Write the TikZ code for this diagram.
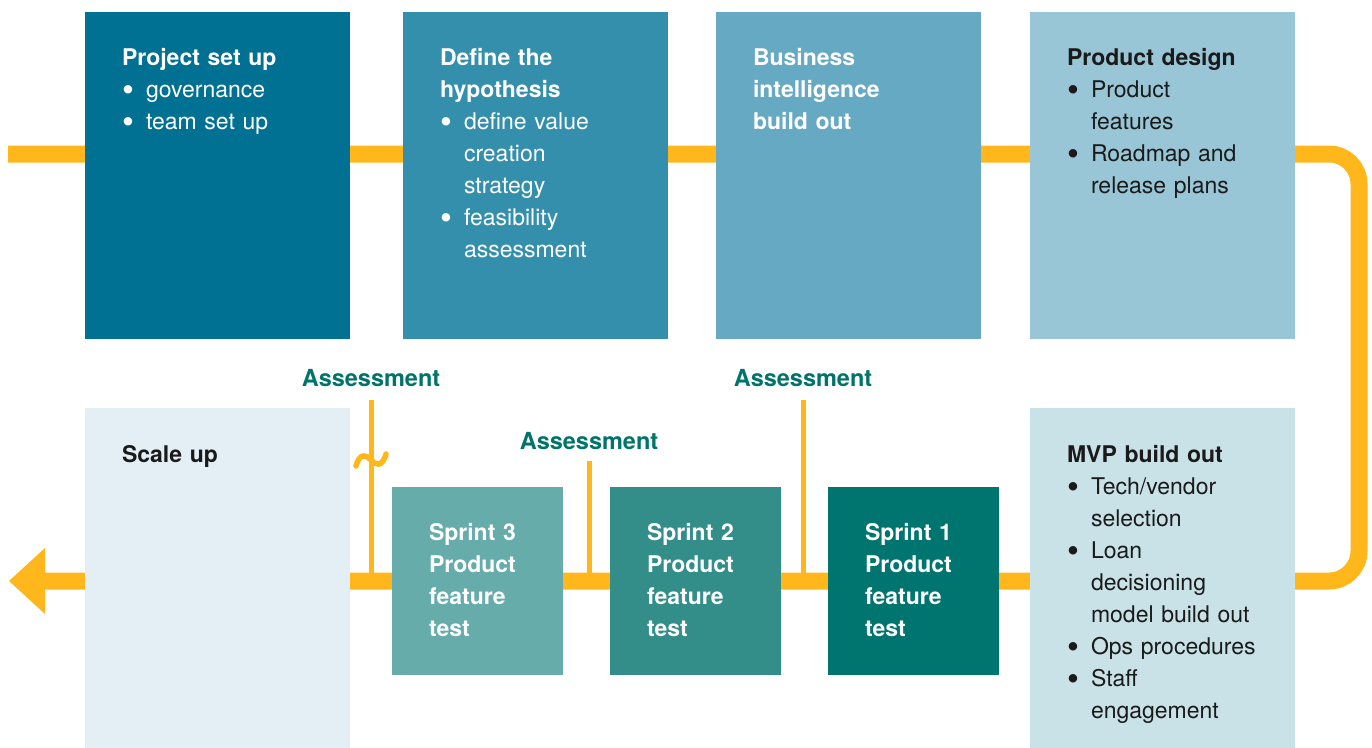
\documentclass[tikz,border=0pt]{standalone}
\usepackage{fontspec}
\setmainfont{TeX Gyre Heros}
\definecolor{flowyellow}{HTML}{FFB71B}
\definecolor{stageA}{HTML}{007093}
\definecolor{stageB}{HTML}{338FAB}
\definecolor{stageC}{HTML}{66A9C3}
\definecolor{stageD}{HTML}{99C6D6}
\definecolor{scalefill}{HTML}{E3EFF5}
\definecolor{mvpfill}{HTML}{C9E2E8}
\definecolor{sprintC}{HTML}{66ACAA}
\definecolor{sprintB}{HTML}{338E8A}
\definecolor{sprintA}{HTML}{007570}
\definecolor{assesscol}{HTML}{00736A}
\definecolor{darktext}{HTML}{1A1A1A}
% bullet item with hanging indent
\newcommand\bulmark{\raisebox{-4.5pt}{\fontsize{34}{34}\selectfont\textbullet}}
\newcommand\bul[1]{\par\hangindent=24pt\hangafter=1\noindent\makebox[24pt][l]{\bulmark}#1\par}
\begin{document}
\begin{tikzpicture}[x=1pt,y=-1pt,
  panel/.style={anchor=north west, inner sep=0, outer sep=0, draw=none, minimum width=265pt},
  sprintbox/.style={anchor=north west, inner sep=0, outer sep=0, draw=none, minimum width=171pt, minimum height=188pt},
  txt/.style={anchor=base west, inner sep=0, outer sep=0, text width=250pt, align=left,
    font=\fontsize{23}{32}\selectfont},
  flow/.style={draw=flowyellow, line width=17pt, rounded corners=30pt},
  tick/.style={draw=flowyellow, line width=5pt},
  assess/.style={font=\fontsize{23.5}{28}\selectfont\bfseries, text=assesscol, inner sep=0}]
\useasboundingbox (0,0) rectangle (1372,747);

% main process path and arrowhead
\coordinate (start) at (8,154);
\coordinate (turnA) at (1359,154);
\coordinate (turnB) at (1359,581);
\coordinate (finish) at (44,581);
\draw[flow] (start) -- (turnA) -- (turnB) -- (finish);
\fill[flowyellow] (45,548) -- (9,581) -- (45,614) -- cycle;

% top row stages
\node[panel, fill=stageA, minimum height=327pt] (setup) at (85,12) {};
\node[panel, fill=stageB, minimum height=327pt] (hypo) at (403,12) {};
\node[panel, fill=stageC, minimum height=327pt] (bi) at (716,12) {};
\node[panel, fill=stageD, minimum height=327pt] (design) at (1030,12) {};

% bottom row stages
\node[panel, fill=scalefill, minimum height=340pt] (scale) at (85,408) {};
\node[panel, fill=mvpfill, minimum height=340pt] (mvp) at (1030,408) {};
\node[sprintbox, fill=sprintC] (s3) at (392,487) {};
\node[sprintbox, fill=sprintB] (s2) at (610,487) {};
\node[sprintbox, fill=sprintA] (s1) at (828,487) {};

% stage texts
\node[txt, text=white] (setupT) at (122,65) {\textbf{Project set up}
  \bul{governance}\bul{team set up}};
\node[txt, text=white] (hypoT) at (440,65) {\textbf{Define the\newline hypothesis}
  \bul{define value\newline creation\newline strategy}\bul{feasibility\newline assessment}};
\node[txt, text=white] (biT) at (753,65) {\textbf{Business\newline intelligence\newline build out}};
\node[txt, text=darktext] (designT) at (1067,65) {\textbf{Product design}
  \bul{Product\newline features}\bul{Roadmap and\newline release plans}};
\node[txt, text=darktext] (scaleT) at (122,462) {\textbf{Scale up}};
\node[txt, text=darktext] (mvpT) at (1067,462) {\textbf{MVP build out}
  \bul{Tech/vendor\newline selection}\bul{Loan\newline decisioning\newline model build out}%
  \bul{Ops procedures}\bul{Staff\newline engagement}};
\node[txt, text=white] (s3T) at (429,540) {\textbf{Sprint 3\newline Product\newline feature\newline test}};
\node[txt, text=white] (s2T) at (647,540) {\textbf{Sprint 2\newline Product\newline feature\newline test}};
\node[txt, text=white] (s1T) at (865,540) {\textbf{Sprint 1\newline Product\newline feature\newline test}};

% assessment gates
\node[assess] (gateC) at (371,378) {Assessment};
\node[assess] (gateB) at (589,441) {Assessment};
\node[assess] (gateA) at (803,378) {Assessment};
\coordinate (gateCtop) at (371,400);
\coordinate (gateCbot) at (371,581);
\coordinate (gateBtop) at (589,461);
\coordinate (gateBbot) at (589,581);
\coordinate (gateAtop) at (803,400);
\coordinate (gateAbot) at (803,581);
\draw[tick] (gateCtop) -- (gateCbot);
\draw[tick] (gateBtop) -- (gateBbot);
\draw[tick] (gateAtop) -- (gateAbot);

% break mark on the first gate
\draw[flowyellow, line width=5.5pt, line cap=round]
  (356,466) .. controls (360,452) and (367,455) .. (371,460)
  .. controls (375,465) and (382,468) .. (386,454);
\end{tikzpicture}
\end{document}
